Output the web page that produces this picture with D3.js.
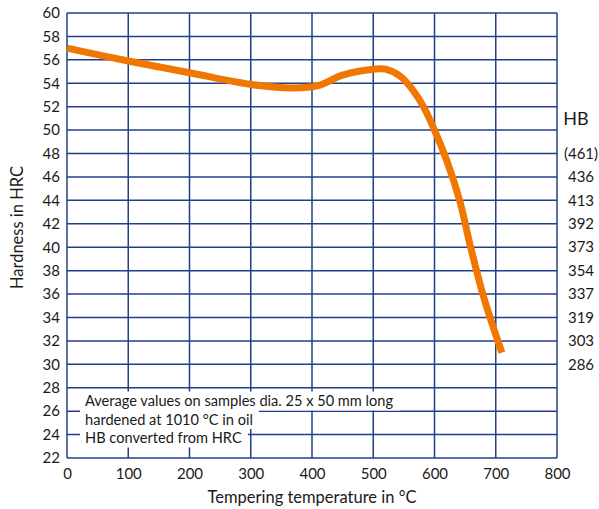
<!DOCTYPE html>
<html>
<head>
<meta charset="utf-8">
<script src="https://cdn.jsdelivr.net/npm/d3@7"></script>
<style>
  body { margin: 0; background: #fff; }
  text { font-family: Lato, "Open Sans", sans-serif; fill: #1a1a1a; }
</style>
</head>
<body>
<div id="chart"></div>
<script>
// tempering curve
var temps = [0, 100, 200, 300, 370, 410, 450, 500, 520, 544, 565, 582, 600, 620, 641, 659, 680, 710];
var hrc = [57, 55.9, 54.9, 53.9, 53.6, 53.8, 54.7, 55.2, 55.2, 54.6, 53.4, 52.0, 50.0, 47.4, 44, 40, 35.8, 31.0];

var xTicks = [0, 100, 200, 300, 400, 500, 600, 700, 800];
var yTicks = d3.range(22, 61, 2);
var hbValues = [48, 46, 44, 42, 40, 38, 36, 34, 32, 30];
var hbLabels = ["(461)", "436", "413", "392", "373", "354", "337", "319", "303", "286"];
var noteLines = [
    "Average values on samples dia. 25 x 50 mm long",
    "hardened at 1010 °C in oil",
    "HB converted from HRC"
];

var svgWidth = 599;
var svgHeight = 509;
var margin = { top: 13, right: 42, bottom: 51, left: 67 };
var width = svgWidth - margin.left - margin.right;
var height = svgHeight - margin.top - margin.bottom;

var gridColor = "#213f8a";

var svg = d3.select("#chart")
    .append("svg")
    .attr("width", svgWidth)
    .attr("height", svgHeight);

var chartGroup = svg.append("g")
    .attr("transform", `translate(${margin.left}, ${margin.top})`);

var xScale = d3.scaleLinear().domain([0, 800]).range([0, width]);
var yScale = d3.scaleLinear().domain([22, 60]).range([height, 0]);

// grid
chartGroup.selectAll(".hgrid")
    .data(yTicks)
    .enter()
    .append("line")
    .attr("x1", 0)
    .attr("x2", width)
    .attr("y1", d => yScale(d))
    .attr("y2", d => yScale(d))
    .attr("stroke", gridColor)
    .attr("stroke-width", 1.5);

chartGroup.selectAll(".vgrid")
    .data(xTicks)
    .enter()
    .append("line")
    .attr("x1", d => xScale(d))
    .attr("x2", d => xScale(d))
    .attr("y1", 0)
    .attr("y2", height)
    .attr("stroke", gridColor)
    .attr("stroke-width", 1.5);

// axes labels (domain and ticks hidden, grid does the work)
var bottomAxis = d3.axisBottom(xScale).tickValues(xTicks).tickSize(0).tickPadding(10);
var leftAxis = d3.axisLeft(yScale).tickValues(yTicks).tickSize(0).tickPadding(7);

var xAxisG = chartGroup.append("g")
    .attr("transform", `translate(0, ${height})`)
    .call(bottomAxis);
var yAxisG = chartGroup.append("g").call(leftAxis);

[xAxisG, yAxisG].forEach(function (g) {
    g.select(".domain").remove();
    g.selectAll("text")
        .attr("font-size", 15)
        .attr("font-family", "Lato, sans-serif")
        .attr("fill", "#1a1a1a");
});

// note box, white background per line
var noteGroup = chartGroup.append("g");
noteLines.forEach(function (line, i) {
    var t = noteGroup.append("text")
        .attr("x", 18)
        .attr("y", yScale(26.4) + i * 18.5)
        .attr("font-size", 14.6)
        .text(line);
    var bb = t.node().getBBox();
    noteGroup.insert("rect", "text")
        .attr("x", 13)
        .attr("y", bb.y - 1)
        .attr("width", bb.width + 11)
        .attr("height", bb.height + 2)
        .attr("fill", "#fff");
});

// curve
var line = d3.line()
    .x(d => xScale(d[0]))
    .y(d => yScale(d[1]))
    .curve(d3.curveCatmullRom.alpha(0.5));

chartGroup.append("path")
    .datum(temps.map((t, i) => [t, hrc[i]]))
    .attr("d", line)
    .attr("fill", "none")
    .attr("stroke", "#f07800")
    .attr("stroke-width", 7);

// right HB scale
chartGroup.selectAll(".hb")
    .data(hbValues)
    .enter()
    .append("text")
    .attr("x", width + 24)
    .attr("y", d => yScale(d))
    .attr("dy", "0.35em")
    .attr("text-anchor", "middle")
    .attr("font-size", 15)
    .text((d, i) => hbLabels[i]);

chartGroup.append("text")
    .attr("x", width + 19)
    .attr("y", yScale(51))
    .attr("dy", "0.35em")
    .attr("text-anchor", "middle")
    .attr("font-size", 18)
    .text("HB");

// titles
chartGroup.append("text")
    .attr("transform", "rotate(-90)")
    .attr("x", 0 - height / 2 + 8)
    .attr("y", 0 - margin.left + 23)
    .attr("text-anchor", "middle")
    .attr("font-size", 16.5)
    .text("Hardness in HRC");

chartGroup.append("text")
    .attr("x", width / 2)
    .attr("y", height + 45)
    .attr("text-anchor", "middle")
    .attr("font-size", 16.5)
    .text("Tempering temperature in °C");
</script>
</body>
</html>
